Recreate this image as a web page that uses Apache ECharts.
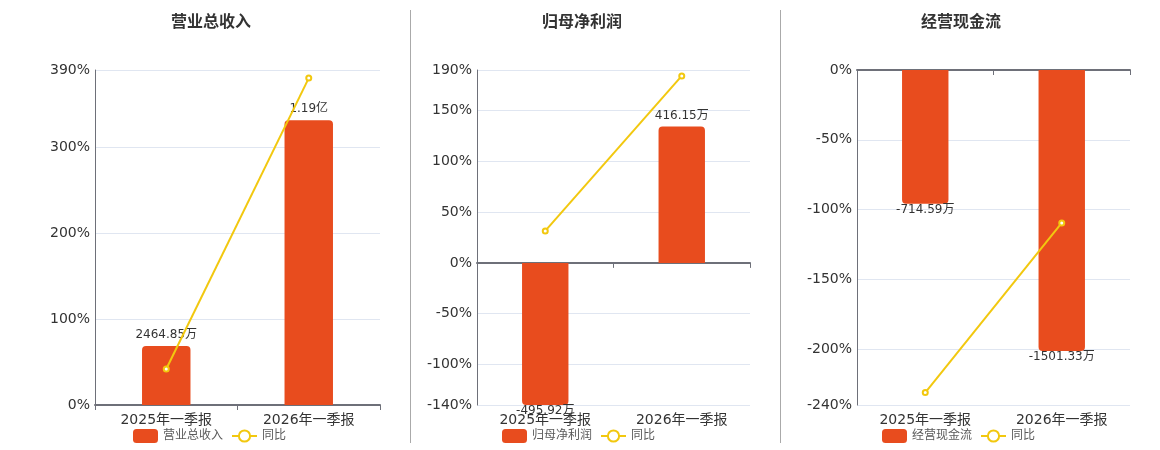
<!DOCTYPE html>
<html>
<head>
<meta charset="utf-8">
<title>财务指标</title>
<script src="https://cdn.jsdelivr.net/npm/echarts/dist/echarts.min.js"></script>
<style>
  body { margin: 0; background: #fff; }
  #chart { width: 1160px; height: 450px; }
</style>
</head>
<body>
<div id="chart"></div>
<script>
// data (amounts in 万, yoy in %)
const periods = ["2025年一季报", "2026年一季报"];
const revenue = [2464.85, 11900];
const revenueYoy = [41.9, 380.6];
const netProfit = [-495.92, 416.15];
const netProfitYoy = [31.5, 184.2];
const cashFlow = [-714.59, -1501.33];
const cashFlowYoy = [-231.1, -109.6];

const barColor = "#e84c1e";
const lineColor = "#f2c80f";
const font = "DejaVu Sans, Noto Sans CJK SC, sans-serif";

const panels = [
  { title: "营业总收入", bars: revenue, yoy: revenueYoy, pct: [0, 390], amt: [0, 14000], left: 95, width: 285, center: 206, legendLeft: 128 },
  { title: "归母净利润", bars: netProfit, yoy: netProfitYoy, pct: [-140, 190], amt: [-434, 589], left: 477, width: 273, center: 577, legendLeft: 497 },
  { title: "经营现金流", bars: cashFlow, yoy: cashFlowYoy, pct: [-240, 0], amt: [-1790, 0], left: 857, width: 273, center: 956, legendLeft: 877 },
];

function fmtAmount(p) {
  const v = p.value;
  return Math.abs(v) >= 10000 ? (v / 10000).toFixed(2) + "亿" : v.toFixed(2) + "万";
}

const chart = echarts.init(document.getElementById("chart"));

const option = {
  animation: false,
  textStyle: { fontFamily: font },
  title: panels.map((p) => ({
    text: p.title,
    left: p.center,
    top: 10,
    textAlign: "center",
    textStyle: { fontSize: 16, fontWeight: "bold", color: "#333", fontFamily: font },
  })),
  legend: panels.map((p) => ({
    left: p.legendLeft,
    top: 424,
    itemWidth: 25,
    itemHeight: 14,
    textStyle: { fontSize: 12, color: "#5a5a5a", fontFamily: font },
    data: [p.title, "同比"],
  })),
  graphic: [
    { type: "line", shape: { x1: 410.5, y1: 10, x2: 410.5, y2: 443 }, style: { stroke: "#aaa", lineWidth: 1 } },
    { type: "line", shape: { x1: 780.5, y1: 10, x2: 780.5, y2: 443 }, style: { stroke: "#aaa", lineWidth: 1 } },
  ],
  grid: panels.map((p) => ({ left: p.left, width: p.width, top: 70, height: 335 })),
  xAxis: [],
  yAxis: [],
  series: [],
};

panels.forEach((p, i) => {
  // labels at the bottom
  option.xAxis.push({
    type: "category",
    gridIndex: i,
    position: "bottom",
    data: periods,
    axisLine: { show: false, onZero: false },
    axisTick: { show: false },
    axisLabel: { fontSize: 14, color: "#333", interval: 0, fontFamily: font },
  });
  // zero line with ticks pointing down
  option.xAxis.push({
    type: "category",
    gridIndex: i,
    position: "top",
    data: periods,
    axisLine: { onZero: true, onZeroAxisIndex: 2 * i, lineStyle: { color: "#6e7079", width: 2 } },
    axisTick: { show: true, inside: true, length: 5, lineStyle: { color: "#6e7079" } },
    axisLabel: { show: false },
  });
  option.yAxis.push({
    type: "value",
    gridIndex: i,
    min: p.pct[0],
    max: p.pct[1],
    axisLine: { show: true, lineStyle: { color: "#6e7079" } },
    axisLabel: { formatter: "{value}%", fontSize: 14, color: "#333", margin: 5, fontFamily: font },
    splitLine: { lineStyle: { color: "#e0e6f1" } },
  });
  option.yAxis.push({
    type: "value",
    gridIndex: i,
    min: p.amt[0],
    max: p.amt[1],
    show: false,
    splitLine: { show: false },
  });

  option.series.push({
    name: p.title,
    type: "bar",
    xAxisIndex: 2 * i,
    yAxisIndex: 2 * i + 1,
    barWidth: "34%",
    itemStyle: { color: barColor, borderRadius: [4, 4, 0, 0] },
    label: { show: true, position: "top", distance: 5, color: "#333", fontSize: 12, fontFamily: font, formatter: fmtAmount },
    data: p.bars.map((v) =>
      v < 0
        ? { value: v, itemStyle: { borderRadius: [0, 0, 4, 4] }, label: { position: "bottom", distance: 0 } }
        : v
    ),
  });
  option.series.push({
    name: "同比",
    type: "line",
    xAxisIndex: 2 * i,
    yAxisIndex: 2 * i,
    symbol: "emptyCircle",
    symbolSize: 5,
    lineStyle: { width: 2, color: lineColor },
    itemStyle: { color: lineColor },
    data: p.yoy,
  });
});

chart.setOption(option);
</script>
</body>
</html>
